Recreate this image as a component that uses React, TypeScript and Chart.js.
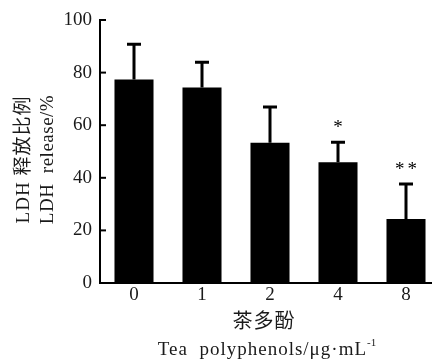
import React, { useEffect, useRef } from "react";
import { Chart, registerables } from "chart.js";

Chart.register(...registerables);

const categories = ["0", "1", "2", "4", "8"];
const means = [77.4, 74.3, 53.3, 45.9, 24.3];
const errors = [13.4, 9.6, 13.6, 7.6, 13.3];
const significance = ["", "", "", "*", "**"];
const yMin = 0;
const yMax = 100;
const yStep = 20;
const yTitleLines = ["LDH 释放比例", "LDH  release/%"];
const xTitleCn = "茶多酚";
const xTitleEn = "Tea  polyphenols/μg·mL";
const xTitleSup = "-1";

const SERIF = "'Liberation Serif', 'Times New Roman', 'Noto Sans CJK SC', serif";
const CJK = "'Noto Sans CJK SC', 'Liberation Serif', serif";

const extrasPlugin = {
  id: "extras",
  afterDatasetsDraw(chart: any) {
    const { ctx } = chart;
    const meta = chart.getDatasetMeta(0);
    const yScale = chart.scales.y;
    ctx.save();
    ctx.strokeStyle = "#000";
    ctx.fillStyle = "#000";
    ctx.lineWidth = 3;
    meta.data.forEach((bar: any, i: number) => {
      const x = bar.x;
      const yTop = yScale.getPixelForValue(means[i]);
      const yErr = yScale.getPixelForValue(means[i] + errors[i]);
      ctx.beginPath();
      ctx.moveTo(x, yTop);
      ctx.lineTo(x, yErr);
      ctx.moveTo(x - 7, yErr);
      ctx.lineTo(x + 7, yErr);
      ctx.stroke();
      if (significance[i]) {
        ctx.font = `19px ${SERIF}`;
        ctx.textAlign = "center";
        ctx.textBaseline = "alphabetic";
        (ctx as any).letterSpacing = "3px";
        ctx.fillText(significance[i], x + 1.5, yErr - 9);
        (ctx as any).letterSpacing = "0px";
      }
    });
    ctx.restore();
  },
  afterDraw(chart: any) {
    const { ctx, chartArea } = chart;
    const yScale = chart.scales.y;
    ctx.save();
    // inward tick marks on the y axis
    ctx.strokeStyle = "#000";
    ctx.lineWidth = 2;
    yScale.ticks.forEach((t: any) => {
      const y = yScale.getPixelForValue(t.value);
      if (t.value === yMin) return;
      ctx.beginPath();
      ctx.moveTo(chartArea.left, y);
      ctx.lineTo(chartArea.left + 6, y);
      ctx.stroke();
    });
    // y title (two rotated lines)
    ctx.fillStyle = "#1a1a1a";
    ctx.textAlign = "center";
    ctx.textBaseline = "middle";
    const cy = (chartArea.top + chartArea.bottom) / 2 + 8;
    const xs = [24, 48];
    const spacings = ["1px", "0.5px"];
    yTitleLines.forEach((line, i) => {
      ctx.save();
      ctx.translate(xs[i], cy);
      ctx.rotate(-Math.PI / 2);
      ctx.font = `19px ${SERIF}`;
      (ctx as any).letterSpacing = spacings[i];
      ctx.fillText(line, 0, 0);
      ctx.restore();
    });
    // x title
    const cx = (chartArea.left + chartArea.right) / 2 - 3;
    ctx.font = `20px ${CJK}`;
    (ctx as any).letterSpacing = "1px";
    ctx.textBaseline = "middle";
    ctx.textAlign = "center";
    ctx.fillText(xTitleCn, cx - 3, chartArea.bottom + 37);
    ctx.font = `19px ${SERIF}`;
    (ctx as any).letterSpacing = "1px";
    const mainW = ctx.measureText(xTitleEn).width;
    ctx.font = `11px ${SERIF}`;
    (ctx as any).letterSpacing = "0px";
    const supW = ctx.measureText(xTitleSup).width;
    const startX = cx - (mainW + supW) / 2;
    ctx.textAlign = "left";
    ctx.textBaseline = "alphabetic";
    ctx.font = `19px ${SERIF}`;
    (ctx as any).letterSpacing = "1px";
    ctx.fillText(xTitleEn, startX, chartArea.bottom + 72);
    ctx.font = `11px ${SERIF}`;
    (ctx as any).letterSpacing = "0px";
    ctx.fillText(xTitleSup, startX + mainW, chartArea.bottom + 63);
    ctx.restore();
  },
};

export default function App() {
  const ref = useRef<HTMLCanvasElement | null>(null);
  useEffect(() => {
    if (!ref.current) return;
    const chart = new Chart(ref.current, {
      type: "bar",
      data: {
        labels: categories,
        datasets: [
          {
            data: means,
            backgroundColor: "#000",
            borderWidth: 0,
            barPercentage: 0.574,
            categoryPercentage: 1,
          },
        ],
      },
      options: {
        responsive: false,
        animation: false,
        layout: { padding: { top: 20, right: 5, left: 0, bottom: 0 } },
        plugins: { legend: { display: false }, tooltip: { enabled: false } },
        scales: {
          x: {
            grid: { display: false, drawTicks: false },
            border: { display: true, color: "#000", width: 2 },
            ticks: { color: "#1a1a1a", font: { family: SERIF, size: 19 }, padding: 1 },
            afterFit(scale: any) {
              scale.height = 78;
            },
          },
          y: {
            min: yMin,
            max: yMax,
            grid: { display: false, drawTicks: false },
            border: { display: true, color: "#000", width: 2 },
            ticks: { stepSize: yStep, color: "#1a1a1a", font: { family: SERIF, size: 19 }, padding: 8 },
            afterFit(scale: any) {
              scale.width = 100;
            },
          },
        },
      },
      plugins: [extrasPlugin],
    });
    return () => chart.destroy();
  }, []);
  return (
    <div style={{ position: "fixed", left: 0, top: 0, width: 432, height: 361, overflow: "hidden", background: "#fff" }}>
      <canvas ref={ref} width={445} height={361} style={{ display: "block" }} />
    </div>
  );
}
